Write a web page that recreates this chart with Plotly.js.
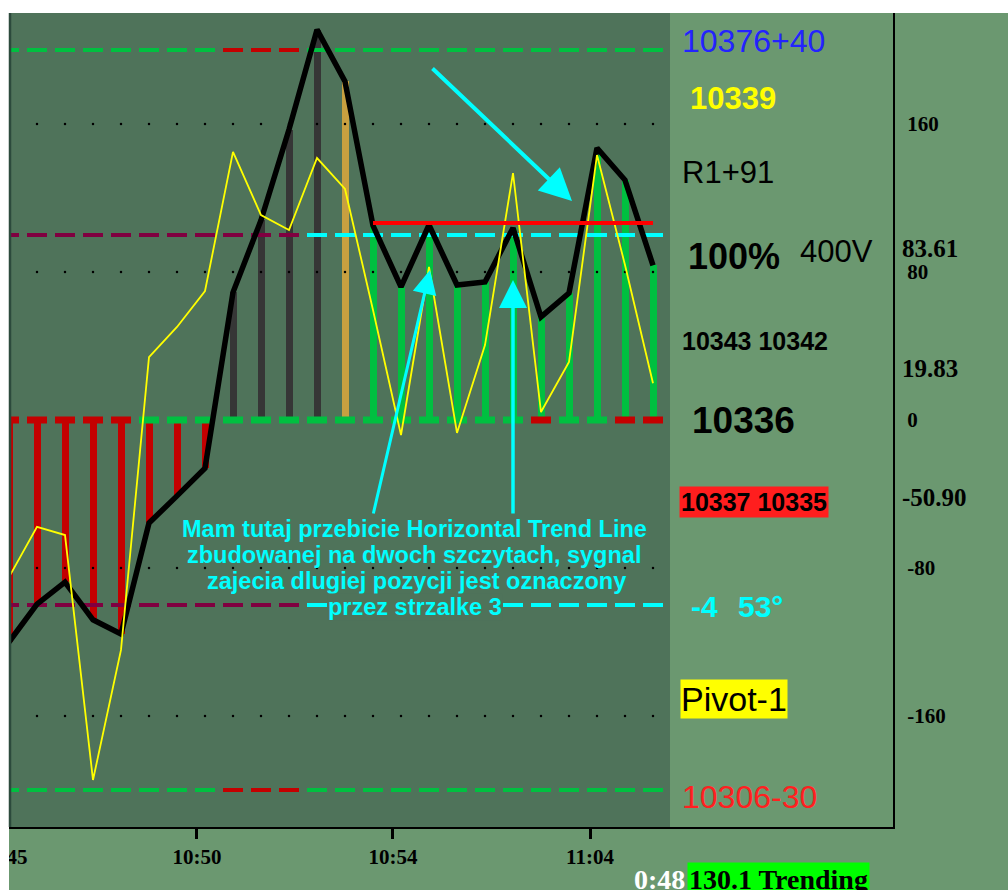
<!DOCTYPE html>
<html><head><meta charset="utf-8">
<script src="https://cdn.plot.ly/plotly-3.0.1.min.js"></script>
<style>html,body{margin:0;padding:0;background:#fff}#chart{width:1008px;height:890px}</style>
</head><body><div id="chart"></div>
<script>
// ---------- DATA ----------
const bars = [0,1,2,3,4,5,6,7,8,9,10,11,12,13,14,15,16,17,18,19,20,21,22,23];
const momentum = [-120,-99.5,-87.6,-108,-115.7,-55.7,-41,-26,69,108,157,211,183,105,72,105.4,73,74.6,103.8,55.7,68.6,147,129.7,83.61];
const signal = [-84.9,-57.8,-62.2,-194.6,-124.3,34,50.3,69.7,144.9,110.8,102.7,141.6,124.9,59.5,-8.1,82.7,-7,40.5,133.5,4.3,31.4,143.2,83.8,19.83];
const barState = ['dn','dn','dn','dn','dn','dn','dn','dn','flat','flat','flat','flat','warn','up','up','up','up','up','up','up','up','up','up','up'];
const zeroState = ['r','r','r','r','r','g','g','g','g','g','g','g','g','g','g','g','g','g','g','r','g','g','r','r'];
const outerState = ['g','g','g','g','g','g','g','g','r','r','r','g','g','g','g','g','g','g','g','g','g','g','g','g'];
const innerState = ['m','m','m','m','m','m','m','m','m','m','m','c','c','c','c','c','c','c','c','c','c','c','c','c'];
const outerLevel = 200;
const innerLevel = 100;
const gridLevels = [160, 80, -80, -160];
const trendLevel = 106.5;
const trendBars = [13, 23];
const extraValue = -50.90;
const timeTickPos = [-0.214, 6.714, 13.714, 20.75];
const timeTickText = ['10:45', '10:50', '10:54', '11:04'];
const yTickVals = [160, 80, 0, -80, -160];
const yTickText = ['160', '80', '0', '-80', '-160'];

// ---------- STYLE ----------
const C = {dn:'#c40000', flat:'#363636', warn:'#c8a040', up:'#00c040',
           r:'#c40000', g:'#00c040', m:'#800040', c:'#00ffff'};
const DARK = '#4f735a', LIGHT = '#6b9870';
const W = 1008, H = 890, ML = 0, MR = 115, MT = 13, MB = 63;
const PW = W - ML - MR, PH = H - MT - MB;
const PX = x => (x - ML) / PW;
const PY = y => (H - MB - y) / PH;
const DASH = 20 / 1.4;

const traces = [];
// dotted grid rows
gridLevels.forEach(lv => traces.push({
  x: bars, y: bars.map(() => lv), type: 'scatter', mode: 'markers',
  marker: {size: 2.5, color: '#000'}, hoverinfo: 'skip', showlegend: false
}));
// histogram bars
traces.push({x: bars, y: momentum, type: 'bar', width: 0.25,
  marker: {color: barState.map(s => C[s]), line: {width: 0}}, showlegend: false, hoverinfo: 'skip'});
// dashed level markers
function dashRow(level, states, lw) {
  return {x: bars, y: bars.map(() => level), type: 'scatter', mode: 'markers',
    marker: {symbol: 'line-ew', size: DASH, line: {width: lw, color: states.map(s => C[s])}},
    showlegend: false, hoverinfo: 'skip', cliponaxis: false};
}
traces.push(dashRow(outerLevel, outerState, 4));
traces.push(dashRow(-outerLevel, outerState, 4));
traces.push(dashRow(innerLevel, innerState, 4));
traces.push(dashRow(-innerLevel, innerState, 4));
traces.push(dashRow(0, zeroState, 7));
// black momentum line
traces.push({x: bars, y: momentum, type: 'scatter', mode: 'lines',
  line: {color: '#000', width: 5.5}, showlegend: false, hoverinfo: 'skip'});
// yellow signal line
traces.push({x: bars, y: signal, type: 'scatter', mode: 'lines',
  line: {color: '#ffff00', width: 1.8}, showlegend: false, hoverinfo: 'skip'});
// red horizontal trend line
traces.push({x: trendBars, y: [trendLevel, trendLevel], type: 'scatter', mode: 'lines',
  line: {color: '#ff0000', width: 4}, showlegend: false, hoverinfo: 'skip'});

const sans = 'Liberation Sans, Arial, sans-serif';
const serif = 'Liberation Serif, Times New Roman, serif';
function txt(t, x, y, size, color, extra) {
  return Object.assign({text: t, xref: 'paper', yref: 'paper', x: PX(x), y: PY(y),
    xanchor: 'left', yanchor: 'middle', showarrow: false,
    font: {family: sans, size: size, color: color}}, extra || {});
}
const last = momentum.length - 1;
const annotations = [
  txt('10376+40', 680, 41, 32, '#2323ff'),
  txt('<b>10339</b>', 688, 98, 31, '#ffff00'),
  txt('R1+91', 680, 172, 31, '#000'),
  txt('<b>100%</b>', 686, 256, 36, '#000'),
  txt('400V', 798, 251, 31, '#000'),
  txt('<b>10343 10342</b>', 680, 341, 25, '#000'),
  txt('<b>10336</b>', 690, 420, 37, '#000'),
  txt('<b>10337 10335</b>', 679, 502, 25, '#000', {bgcolor: '#ff1e1e', borderpad: 1}),
  txt('<b>-4</b>', 689, 606, 30, '#00ffff'),
  txt('<b>53°</b>', 736, 606, 30, '#00ffff'),
  txt('Pivot-1', 680, 699, 34, '#000', {bgcolor: '#ffff00', borderpad: 0}),
  txt('10306-30', 680, 797, 32, '#ff2020'),
  txt('<b>0:48</b>', 687, 879, 28, '#fff', {xanchor: 'right', font: {family: serif, size: 28, color: '#fff'}}),
  txt('<b>130.1 Trending</b>', 687, 880, 28, '#000', {bgcolor: '#00ff00', borderpad: 1, font: {family: serif, size: 28, color: '#000'}}),
  // cyan explanatory text
  txt('<b>Mam tutaj przebicie Horizontal Trend Line</b>', 414, 529, 23.5, '#00ffff', {xanchor: 'center'}),
  txt('<b>zbudowanej na dwoch szczytach, sygnal</b>', 414, 555, 23.5, '#00ffff', {xanchor: 'center'}),
  txt('<b>zajecia dlugiej pozycji jest oznaczony</b>', 416, 581, 23.5, '#00ffff', {xanchor: 'center'}),
  txt('<b>przez strzalke 3</b>', 415, 607, 23.5, '#00ffff', {xanchor: 'center', bgcolor: DARK, borderpad: 0}),
];
// right-hand value labels
[[momentum[last], 17], [signal[last], 15], [extraValue, 17]].forEach(([v, sh]) => annotations.push({
  text: '<b>' + v.toFixed(2) + '</b>', xref: 'paper', yref: 'y', x: PX(900), y: v, yshift: sh,
  xanchor: 'left', yanchor: 'middle', showarrow: false, font: {family: serif, size: 25, color: '#000'}}));
// cyan arrows
function arrow(hx, hy, tx, ty, w) {
  return {text: '', xref: 'paper', yref: 'paper', x: PX(hx), y: PY(hy), ax: tx - hx, ay: ty - hy,
    showarrow: true, arrowhead: 2, arrowsize: 1.6, arrowwidth: w, arrowcolor: '#00ffff', standoff: 0};
}
annotations.push(arrow(572, 201, 431, 67, 4));
annotations.push(arrow(430, 270, 373, 515, 3));
annotations.push(arrow(513, 280, 513, 515, 3.5));

const shapes = [
  {type: 'rect', xref: 'paper', yref: 'paper', x0: PX(9), x1: PX(1010), y0: PY(895), y1: 1, fillcolor: LIGHT, line: {width: 0}, layer: 'below'},
  {type: 'rect', xref: 'paper', yref: 'paper', x0: PX(10), x1: PX(670), y0: 0, y1: 1, fillcolor: DARK, line: {width: 0}, layer: 'below'},
  {type: 'rect', xref: 'paper', yref: 'paper', x0: PX(-5), x1: PX(9), y0: PY(895), y1: PY(-5), fillcolor: '#fff', line: {width: 0}, layer: 'above'},
  {type: 'line', xref: 'paper', yref: 'paper', x0: PX(10), x1: PX(10), y0: 0, y1: 1, line: {color: '#2c4a3c', width: 2.5}, layer: 'above'},
];

const layout = {
  width: W, height: H, margin: {l: ML, r: MR, t: MT, b: MB, pad: 0},
  paper_bgcolor: '#fff', plot_bgcolor: 'rgba(0,0,0,0)', showlegend: false,
  xaxis: {range: [(ML - 9) / 28, (ML + PW - 9) / 28], tickvals: timeTickPos, ticktext: timeTickText,
    ticks: 'outside', ticklen: 10, tickwidth: 3, tickcolor: '#000', showline: true, linecolor: '#000', linewidth: 2,
    showgrid: false, zeroline: false, fixedrange: true, ticklabeloverflow: 'allow',
    tickfont: {family: serif, size: 21, color: '#000', weight: 'bold'}},
  yaxis: {range: [-220, 220], side: 'right', tickvals: yTickVals, ticktext: yTickText, ticks: '',
    showline: true, linecolor: '#000', linewidth: 2, showgrid: false, zeroline: false, fixedrange: true,
    ticklabelstandoff: 8, tickfont: {family: serif, size: 21, color: '#000', weight: 'bold'}},
  shapes: shapes, annotations: annotations, bargap: 0
};
Plotly.newPlot('chart', traces, layout, {displayModeBar: false, staticPlot: true});
</script></body></html>
